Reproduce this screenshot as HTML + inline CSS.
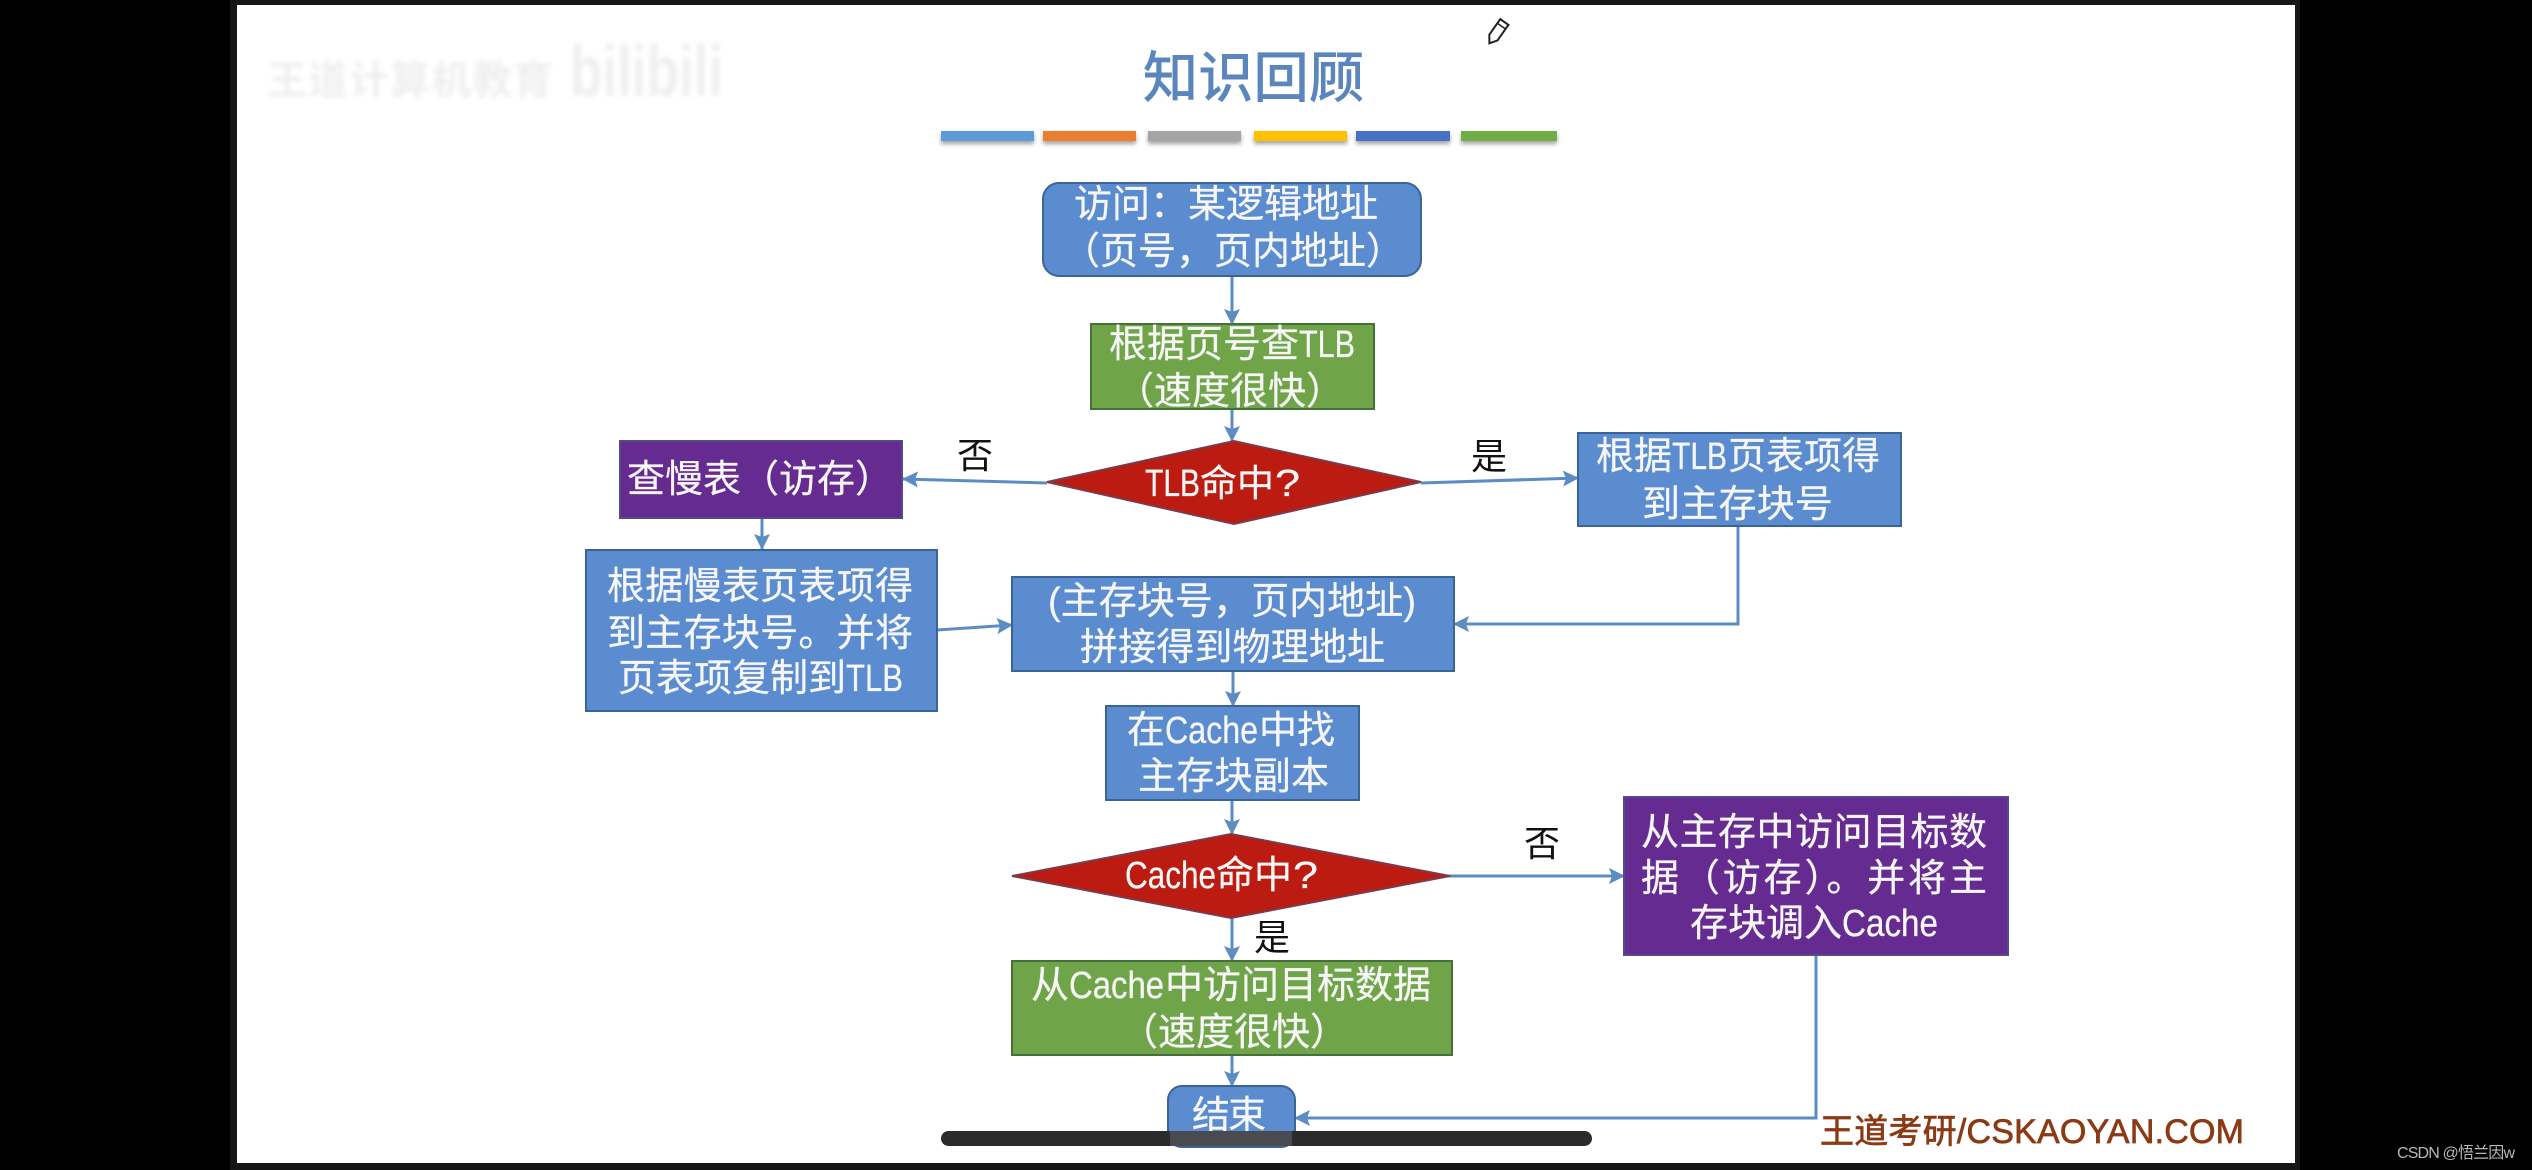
<!DOCTYPE html>
<html lang="zh"><head><meta charset="utf-8"><title>知识回顾</title>
<style>
html,body{margin:0;padding:0;background:#000;width:2532px;height:1170px;overflow:hidden}
svg{display:block}
text{font-family:"Liberation Sans","Noto Sans CJK SC",sans-serif}
.w{fill:#f6f6f6;font-size:38px;stroke:#f6f6f6;stroke-width:.3px}
.k{fill:#111;font-size:36px}
</style></head><body>
<svg xmlns="http://www.w3.org/2000/svg" width="2532" height="1170" viewBox="0 0 2532 1170">
<defs>
<marker id="a" markerUnits="userSpaceOnUse" markerWidth="18" markerHeight="18" refX="15" refY="8" orient="auto"><path d="M0 0L16 8L0 16L3 8Z" fill="#5b8cc4"/></marker>
<filter id="bl"><feGaussianBlur stdDeviation="2.5"/></filter>
<filter id="sh" x="-5%" y="-50%" width="110%" height="220%"><feDropShadow dx="0" dy="3" stdDeviation="2" flood-color="#555" flood-opacity=".55"/></filter>
</defs>
<rect width="2532" height="1170" fill="#000"/>
<rect x="230" y="0" width="2070" height="1170" fill="#161616"/>
<rect x="237" y="5" width="2058" height="1158" fill="#fff"/>

<!-- faded watermark -->
<g filter="url(#bl)" fill="#efefef">
<text x="267" y="94" font-size="40" textLength="286" font-weight="bold">王道计算机教育</text>
<text x="570" y="96" font-size="72" textLength="153" lengthAdjust="spacingAndGlyphs" font-weight="bold">bilibili</text>
</g>

<!-- pencil -->
<g transform="translate(1498 31) rotate(35)" fill="#fff" stroke="#222" stroke-width="2"><path d="M-5 -11H5V8L0 15L-5 8Z"/><path d="M-5 -6H5" stroke-width="1.5"/></g>

<!-- title -->
<text x="1143" y="97" font-size="55" fill="#5b86bd" stroke="#5b86bd" stroke-width="1" textLength="221">知识回顾</text>
<g filter="url(#sh)">
<rect x="941" y="131" width="93" height="10" fill="#5b9bd5"/>
<rect x="1043" y="131" width="93" height="10" fill="#ed7d31"/>
<rect x="1148" y="131" width="93" height="10" fill="#a5a5a5"/>
<rect x="1254" y="131" width="93" height="10" fill="#ffc000"/>
<rect x="1356" y="131" width="94" height="10" fill="#4472c4"/>
<rect x="1461" y="131" width="96" height="10" fill="#70ad47"/>
</g>

<!-- connectors -->
<g fill="none" stroke="#5b8cc4" stroke-width="3" marker-end="url(#a)">
<path d="M1232 276V324"/>
<path d="M1232 409V441"/>
<path d="M1047 483L903 479"/>
<path d="M1421 483L1578 478"/>
<path d="M762 518V549"/>
<path d="M937 630L1012 625"/>
<path d="M1738 526V624H1454"/>
<path d="M1233 671V706"/>
<path d="M1232 800V834"/>
<path d="M1449 876H1624"/>
<path d="M1232 918V961"/>
<path d="M1232 1055V1086"/>
<path d="M1816 955V1118H1295"/>
</g>

<!-- nodes -->
<g stroke-width="2">
<rect x="1043" y="183" width="378" height="93" rx="16" fill="#5a8ccf" stroke="#3a6496"/>
<rect x="1091" y="324" width="283" height="85" fill="#6fa548" stroke="#46703a"/>
<path d="M1047 482L1234 441L1421 482L1234 524Z" fill="#bb1b10" stroke="#7c3a4a"/>
<rect x="620" y="441" width="282" height="77" fill="#652b91" stroke="#4e4a8c"/>
<rect x="586" y="550" width="351" height="161" fill="#5a8ccf" stroke="#3a6496"/>
<rect x="1578" y="433" width="323" height="93" fill="#5a8ccf" stroke="#3a6496"/>
<rect x="1012" y="577" width="442" height="94" fill="#5a8ccf" stroke="#3a6496"/>
<rect x="1106" y="706" width="253" height="94" fill="#5a8ccf" stroke="#3a6496"/>
<path d="M1012 876L1231 834L1450 876L1231 918Z" fill="#bb1b10" stroke="#7c3a4a"/>
<rect x="1624" y="797" width="384" height="158" fill="#652b91" stroke="#4e4a8c"/>
<rect x="1012" y="961" width="440" height="94" fill="#6fa548" stroke="#46703a"/>
<rect x="1168" y="1086" width="127" height="61" rx="14" fill="#5a8ccf" stroke="#3a6496"/>
</g>

<!-- node text -->
<text class="w" x="1074" y="217" textLength="304">访问：某逻辑地址</text>
<text class="w" x="1062" y="264" textLength="342">（页号，页内地址）</text>
<text class="w" x="1109" y="357">根据页号查</text><text class="w" x="1299" y="357" textLength="56" lengthAdjust="spacingAndGlyphs">TLB</text>
<text class="w" x="1116" y="404" textLength="228">（速度很快）</text>
<text class="w" x="1145" y="496" textLength="55" lengthAdjust="spacingAndGlyphs">TLB</text><text class="w" x="1200" y="496" style="font-size:37px">命中</text><text class="w" x="1275" y="496" textLength="25" lengthAdjust="spacingAndGlyphs">?</text>
<text class="w" x="627" y="492" textLength="266">查慢表（访存）</text>
<text class="w" x="607" y="599" textLength="306">根据慢表页表项得</text>
<text class="w" x="607" y="646" textLength="306">到主存块号。并将</text>
<text class="w" x="618" y="691">页表项复制到</text><text class="w" x="846" y="691" textLength="57" lengthAdjust="spacingAndGlyphs">TLB</text>
<text class="w" x="1596" y="469">根据</text><text class="w" x="1672" y="469" textLength="55" lengthAdjust="spacingAndGlyphs">TLB</text><text class="w" x="1728" y="469">页表项得</text>
<text class="w" x="1642" y="517" textLength="191">到主存块号</text>
<text class="w" x="1048" y="614" textLength="368">(主存块号，页内地址)</text>
<text class="w" x="1080" y="660" textLength="305">拼接得到物理地址</text>
<text class="w" x="1127" y="743">在</text><text class="w" x="1165" y="743" textLength="93" lengthAdjust="spacingAndGlyphs">Cache</text><text class="w" x="1259" y="743">中找</text>
<text class="w" x="1138" y="789" textLength="191">主存块副本</text>
<text class="w" x="1125" y="888" textLength="91" lengthAdjust="spacingAndGlyphs">Cache</text><text class="w" x="1216" y="888">命中</text><text class="w" x="1293" y="888" textLength="25" lengthAdjust="spacingAndGlyphs">?</text>
<text class="w" x="1641" y="845" textLength="346">从主存中访问目标数</text>
<text class="w" x="1641" y="891" textLength="346">据（访存）。并将主</text>
<text class="w" x="1690" y="936">存块调入</text><text class="w" x="1842" y="936" textLength="96" lengthAdjust="spacingAndGlyphs">Cache</text>
<text class="w" x="1031" y="998">从</text><text class="w" x="1069" y="998" textLength="95" lengthAdjust="spacingAndGlyphs">Cache</text><text class="w" x="1165" y="998">中访问目标数据</text>
<text class="w" x="1120" y="1045" textLength="228">（速度很快）</text>
<text class="w" x="1192" y="1128" textLength="74">结束</text>

<!-- branch labels -->
<text class="k" x="957" y="468">否</text>
<text class="k" x="1471" y="469">是</text>
<text class="k" x="1524" y="856">否</text>
<text class="k" x="1254" y="950">是</text>

<!-- brand -->
<text x="1820" y="1143" font-size="34" fill="#8b3a14" stroke="#8b3a14" stroke-width=".7" textLength="424">王道考研/CSKAOYAN.COM</text>

<!-- scrollbar overlay -->
<rect x="941" y="1131" width="651" height="15" rx="7.5" fill="#2b2b2b"/>
<rect x="1170" y="1131" width="122" height="15" fill="#5d6066" opacity=".6"/>

<text x="2397" y="1158" font-size="16" fill="#b8b8b8" textLength="118">CSDN @悟兰因w</text>
</svg>
</body></html>
